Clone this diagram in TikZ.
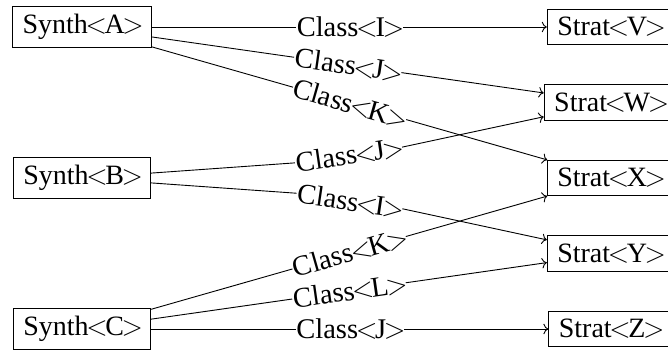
\RequirePackage{fix-cm}
\documentclass[tikz,border=0pt]{standalone}
\usepackage{fontspec}
\setmainfont{Liberation Serif}
\usetikzlibrary{arrows.meta}
\newcommand\mylt{\ensuremath{\mkern-1.5mu<\mkern-1.5mu}}
\newcommand\mygt{\ensuremath{\mkern-1.5mu>\mkern-1.5mu}}
\begin{document}
\begin{tikzpicture}[x=1pt,y=-1pt,
  box/.style={draw, line width=0.9pt, inner xsep=10pt, inner ysep=8pt, font=\fontsize{28}{34}\selectfont},
  lab/.style={inner sep=0.6pt, sloped, font=\fontsize{28.5}{34}\selectfont},
  conn/.style={line width=0.9pt},
  arr/.style={line width=0.9pt, -{To[scale=1.4]}}]
\useasboundingbox (0,0) rectangle (668,350);
% sources
\node[box] (A) at (82,27) {Synth\mylt A\mygt};
\node[box] (B) at (82,178) {Synth\mylt B\mygt};
\node[box] (C) at (82,329) {Synth\mylt C\mygt};
% targets
\node[box] (V) at (610.5,27) {Strat\mylt V\mygt};
\node[box] (W) at (610.5,102.5) {Strat\mylt W\mygt};
\node[box] (X) at (610.5,178) {Strat\mylt X\mygt};
\node[box] (Y) at (610.5,253.5) {Strat\mylt Y\mygt};
\node[box] (Z) at (610.5,329) {Strat\mylt Z\mygt};
% A edges
\path (A) -- (V) node[lab, midway] (lAV) {Class\mylt I\mygt};
\draw[conn] (A) -- (lAV.west);
\draw[arr] (lAV.east) -- (V);
\path (A) -- (W) node[lab, midway] (lAW) {Class\mylt J\mygt};
\draw[conn] (A) -- (lAW.west);
\draw[arr] (lAW.east) -- (W);
\path (A) -- (X) node[lab, midway] (lAX) {Class\mylt K\mygt};
\draw[conn] (A) -- (lAX.west);
\draw[arr] (lAX.east) -- (X);
% B edges
\coordinate (bw1) at (294,163);
\coordinate (bw2) at (403,147);
\path (bw1) -- (bw2) node[lab, midway] (lBW) {Class\mylt J\mygt};
\draw[conn] (B) -- (lBW.west);
\draw[arr] (lBW.east) -- (W);
\coordinate (by1) at (295,193);
\coordinate (by2) at (404,209);
\path (by1) -- (by2) node[lab, midway] (lBY) {Class\mylt I\mygt};
\draw[conn] (B) -- (lBY.west);
\draw[arr] (lBY.east) -- (Y);
% C edges
\path (C) -- (X) node[lab, midway] (lCX) {Class\mylt K\mygt};
\draw[conn] (C) -- (lCX.west);
\draw[arr] (lCX.east) -- (X);
\path (C) -- (Y) node[lab, midway] (lCY) {Class\mylt L\mygt};
\draw[conn] (C) -- (lCY.west);
\draw[arr] (lCY.east) -- (Y);
\path (C) -- (Z) node[lab, midway] (lCZ) {Class\mylt J\mygt};
\draw[conn] (C) -- (lCZ.west);
\draw[arr] (lCZ.east) -- (Z);
\end{tikzpicture}
\end{document}
